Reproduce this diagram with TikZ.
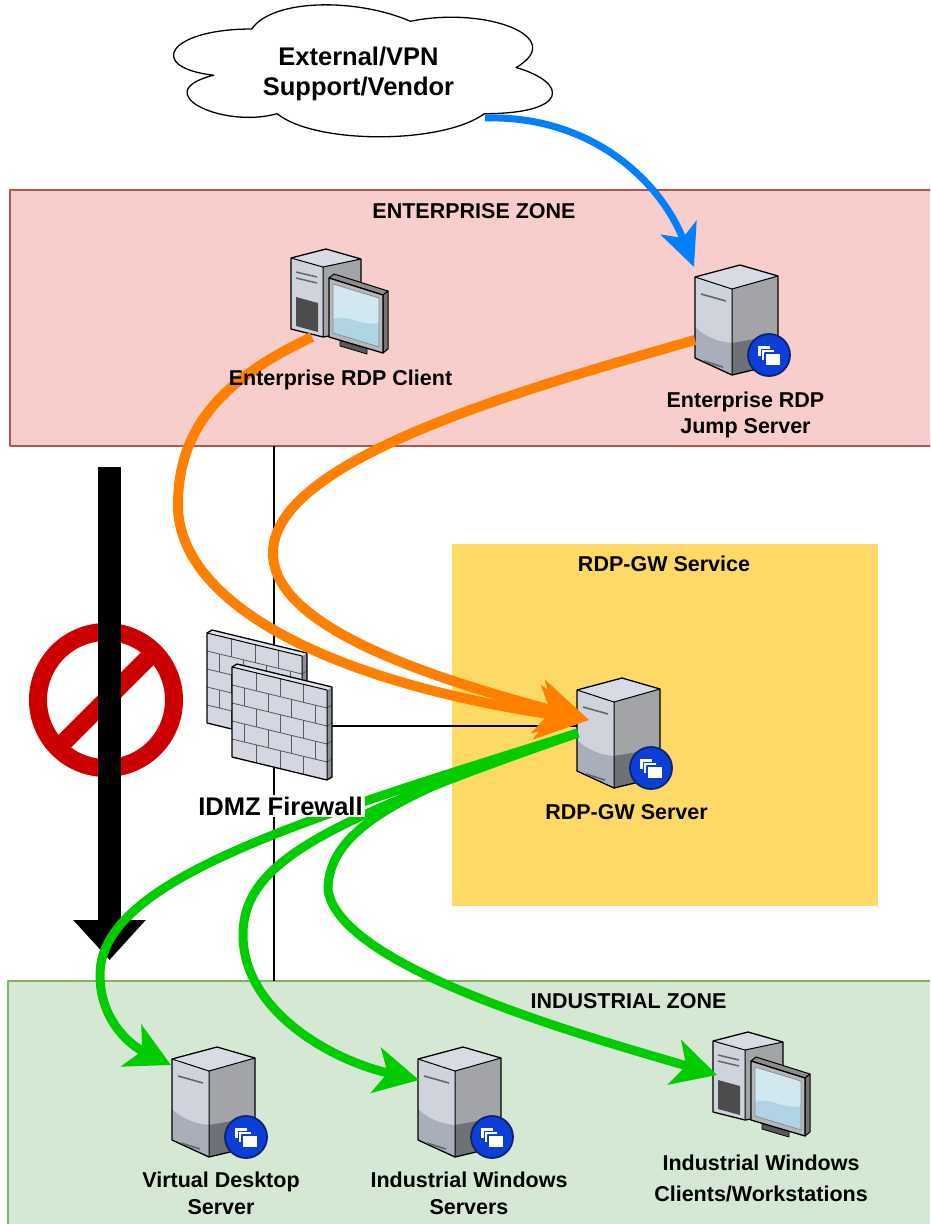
\documentclass[tikz,border=0pt]{standalone}
\usepackage{fontspec}
\setmainfont{Liberation Sans}
\usetikzlibrary{arrows.meta}

\definecolor{entfill}{HTML}{F8CECC}
\definecolor{entline}{HTML}{B85450}
\definecolor{indfill}{HTML}{D5E8D4}
\definecolor{indline}{HTML}{82B366}
\definecolor{gwfill}{HTML}{FFD966}
\definecolor{rdporange}{HTML}{FF8000}
\definecolor{vpnblue}{HTML}{007FFF}
\definecolor{ictgreen}{HTML}{00CC00}
\definecolor{stopred}{HTML}{CC0000}
\definecolor{srvtop}{HTML}{D8DBE3}
\definecolor{srvlight}{HTML}{CFD3DC}
\definecolor{srvmid}{HTML}{A9AEBB}
\definecolor{srvside}{HTML}{A2A4A8}
\definecolor{srvdark}{HTML}{6E7176}
\definecolor{badgeblue}{HTML}{0B3FD8}
\definecolor{badgeedge}{HTML}{0A2470}
\definecolor{brick}{HTML}{D4D7E1}
\definecolor{brickside}{HTML}{8C8F95}
\definecolor{screenhi}{HTML}{D2E8F1}
\definecolor{screenlo}{HTML}{AFD4E4}

\tikzset{
  lbl/.style={font=\fontsize{21.5pt}{26pt}\selectfont\bfseries, align=center, inner sep=0pt},
  biglbl/.style={font=\fontsize{25.5pt}{30pt}\selectfont\bfseries, align=center, inner sep=0pt},
  rdp/.style={draw=rdporange, line width=10, -{Stealth[length=52pt, width=54pt, inset=14pt]}},
  ict/.style={draw=ictgreen, line width=9, -{Stealth[length=44pt, width=46pt, inset=12pt]}},
  vpn/.style={draw=vpnblue, line width=7, -{Stealth[length=42pt, width=38pt, inset=11pt]}},
  link/.style={draw=black, line width=2},
  % tower server
  server/.pic={
    \fill[srvtop] (0,12) -- (45,0) -- (83,11) -- (37,24) -- cycle;
    \fill[srvlight] (0,12) -- (37,24) -- (37,110) -- (0,93) -- cycle;
    \fill[srvmid] (0,62) .. controls (10,72) and (24,77) .. (37,78) -- (37,110) -- (0,93) -- cycle;
    \fill[srvside] (37,24) -- (83,11) -- (83,99) -- (37,110) -- cycle;
    \fill[srvdark] (37,78) -- (83,70) -- (83,99) -- (37,110) -- cycle;
    \draw[line width=1.3] (0,12) -- (45,0) -- (83,11) -- (83,99) -- (37,110) -- (0,93) -- cycle;
    \draw[line width=1] (0,12) -- (37,24) -- (83,11) (37,24) -- (37,110);
    \draw[line width=1.6, black!60] (6,29) -- (31,36) (9,96) -- (28,102);
  },
  % remote desktop badge
  badge/.pic={
    \draw[fill=badgeblue, draw=badgeedge, line width=1.8] (0,0) circle[radius=21];
    \draw[fill=white, draw=badgeblue, line width=1] (-12,-10) rectangle (1,1);
    \draw[fill=white, draw=badgeblue, line width=1] (-8,-6) rectangle (5,5);
    \draw[fill=white, draw=badgeblue, line width=1.2] (-4,-2) rectangle (12,11);
  },
  % desktop tower with monitor
  workstation/.pic={
    \fill[srvtop] (1,11) -- (36,2) -- (71,12) -- (33,20) -- cycle;
    \fill[srvlight] (1,11) -- (33,20) -- (33,90) -- (1,82) -- cycle;
    \fill[srvside] (33,20) -- (71,12) -- (71,84) -- (33,90) -- cycle;
    \fill[black!70] (6,50) -- (28,56) -- (28,85) -- (6,79) -- cycle;
    \draw[line width=1.3] (1,11) -- (36,2) -- (71,12) -- (71,84) -- (33,90) -- (1,82) -- cycle;
    \draw[line width=1] (1,11) -- (33,20) -- (71,12) (33,20) -- (33,90);
    \draw[line width=1.5, black!60] (6,25) -- (27,30) (6,31) -- (27,36);
    \filldraw[fill=black!65, line width=0.8] (50,93) -- (77,101) -- (77,107) -- (50,99) -- cycle;
    \filldraw[fill=black!45, line width=1] (39,31) -- (44,27) -- (98,44) -- (93,48) -- cycle;
    \filldraw[fill=black!55, line width=1] (93,48) -- (98,44) -- (98,102) -- (93,106) -- cycle;
    \filldraw[fill=srvside!80!white, line width=1.3] (39,31) -- (93,48) -- (93,106) -- (39,90) -- cycle;
    \fill[screenhi] (43,37) -- (89,51) -- (89,100) -- (43,86) -- cycle;
    \fill[screenlo] (43,72) .. controls (55,66) and (72,80) .. (89,76) -- (89,100) -- (43,86) -- cycle;
    \draw[line width=0.8, black!45] (43,37) -- (89,51) -- (89,100) -- (43,86) -- cycle;
  },
  % slanted brick wall
  brickwall/.pic={
    \fill[brickside] (95,23) -- (100,20) -- (100,110) -- (95,113) -- cycle;
    \fill[brick!70!white] (0,0) -- (5,-3) -- (100,20) -- (95,23) -- cycle;
    \fill[brick] (0,0) -- (95,23) -- (95,113) -- (0,90) -- cycle;
    \foreach \r in {18,36,54,72} {
      \draw[line width=0.8, black!65] (0,\r) -- (95,\r+23);
      \draw[line width=0.8, black!65] (95,\r+23) -- (100,\r+20);
    }
    \foreach \i in {0,2,4} \foreach \xx in {24,48,71}
      \draw[line width=0.8, black!65] (\xx,{18*\i+0.242*\xx}) -- (\xx,{18*\i+18+0.242*\xx});
    \foreach \i in {1,3} \foreach \xx in {12,36,59,83}
      \draw[line width=0.8, black!65] (\xx,{18*\i+0.242*\xx}) -- (\xx,{18*\i+18+0.242*\xx});
    \draw[line width=1.3] (0,0) -- (5,-3) -- (100,20) -- (100,110) -- (95,113) -- (0,90) -- cycle;
    \draw[line width=1] (0,0) -- (95,23) -- (95,113);
  },
}

\begin{document}
\begin{tikzpicture}[x=1pt, y=-1pt, line join=round]
\useasboundingbox (0,0) rectangle (930,1224);
\clip (0,0) rectangle (930,1224);
\fill[white] (0,0) rectangle (930,1224);

% zones
\draw[fill=entfill, draw=entline, line width=1.5] (10,190) rectangle (945,446);
\draw[fill=indfill, draw=indline, line width=1.5] (8,981) rectangle (945,1240);
\fill[gwfill] (452,544) rectangle (878,906);

% connection points
\coordinate (fwTop) at (274,446);
\coordinate (fwBottom) at (274,981);
\coordinate (fwRight) at (330,726);
\coordinate (gwLeft) at (579,726);
\coordinate (gwIn) at (589,720);
\coordinate (gwOut) at (578,733);
\coordinate (clientOut) at (312,337);
\coordinate (jumpOut) at (695,340);
\coordinate (jumpIn) at (694,267);
\coordinate (cloudOut) at (485,118);
\coordinate (vdsIn) at (171,1065);
\coordinate (iwsIn) at (419,1080);
\coordinate (iwcIn) at (717,1075);
\coordinate (blockTop) at (109.5,467);
\coordinate (blockEnd) at (109.5,960);

% firewall links
\draw[link] (fwTop) -- (fwBottom);
\draw[link] (fwRight) -- (gwLeft);

% firewall
\pic at (207,633) {brickwall};
\pic at (232,667) {brickwall};

% hosts
\pic at (290,247) {workstation};
\pic at (695,265) {server};
\pic at (769,355) {badge};
\pic at (577,678) {server};
\pic at (651,768) {badge};
\pic at (172,1047) {server};
\pic at (246,1137) {badge};
\pic at (418,1047) {server};
\pic at (492,1137) {badge};
\pic at (712,1030) {workstation};

% blocked direct path
\draw[stopred, line width=18] (106,700) circle[radius=68];
\draw[stopred, line width=18] (150,656) -- (62,744);
\draw[line width=23, -{Triangle[length=40pt, width=70pt]}] (blockTop) -- (blockEnd);

% RDP sessions into the gateway
\draw[rdp] (clientOut) .. controls (220,380) and (178,430) .. (178,505)
  .. controls (178,600) and (320,680) .. (gwIn);
\draw[rdp] (jumpOut) .. controls (520,390) and (273,460) .. (273,553)
  .. controls (273,620) and (400,670) .. (gwIn);

% gateway sessions into the industrial zone
\draw[ict] (gwOut) .. controls (300,820) and (100,880) .. (100,975)
  .. controls (100,1020) and (130,1045) .. (vdsIn);
\draw[ict] (gwOut) .. controls (330,820) and (243,860) .. (243,935)
  .. controls (243,1010) and (330,1060) .. (iwsIn);
\draw[ict] (gwOut) .. controls (400,790) and (328,830) .. (328,890)
  .. controls (340,970) and (600,1040) .. (iwcIn);

% labels
\node[lbl, anchor=base] (entzone) at (474,218) {ENTERPRISE ZONE};
\node[lbl, anchor=base] (client) at (340.5,385) {Enterprise RDP Client};
\node[lbl] (jump) at (745.5,414.5) {Enterprise RDP\\Jump Server};
\node[lbl, anchor=base] (gwsvc) at (664,571) {RDP-GW Service};
\node[lbl, anchor=base] (gw) at (626.5,819) {RDP-GW Server};
\node[biglbl, anchor=base, fill=white, inner sep=2pt] (fw) at (280.5,815) {IDMZ Firewall};
\node[lbl, anchor=base] (indzone) at (628.5,1008) {INDUSTRIAL ZONE};
\node[lbl, font=\fontsize{21.5pt}{26.5pt}\selectfont\bfseries] (vds) at (221,1193.4) {Virtual Desktop\\Server};
\node[lbl, font=\fontsize{21.5pt}{26.5pt}\selectfont\bfseries] (iws) at (469,1193.4) {Industrial Windows\\Servers};
\node[lbl, font=\fontsize{21.5pt}{31pt}\selectfont\bfseries] (iwc) at (761,1178) {Industrial Windows\\Clients/Workstations};

% vendor cloud
\begin{scope}[shift={(146,-9.5)}, x=423pt, y=-154pt]
  \draw[fill=white, line width=1.3]
    (0.25,0.25) .. controls (0.05,0.25) and (0,0.5) .. (0.16,0.55)
    .. controls (0,0.66) and (0.18,0.9) .. (0.31,0.8)
    .. controls (0.4,1) and (0.7,1) .. (0.8,0.8)
    .. controls (1,0.8) and (1,0.6) .. (0.875,0.5)
    .. controls (1,0.3) and (0.8,0.1) .. (0.625,0.2)
    .. controls (0.5,0.05) and (0.3,0.05) .. (0.25,0.25) -- cycle;
\end{scope}
\node[biglbl] (vendor) at (358.5,74.4) {External/VPN\\Support/Vendor};
\draw[vpn] (cloudOut) .. controls (590,115) and (660,180) .. (jumpIn);
\end{tikzpicture}
\end{document}
